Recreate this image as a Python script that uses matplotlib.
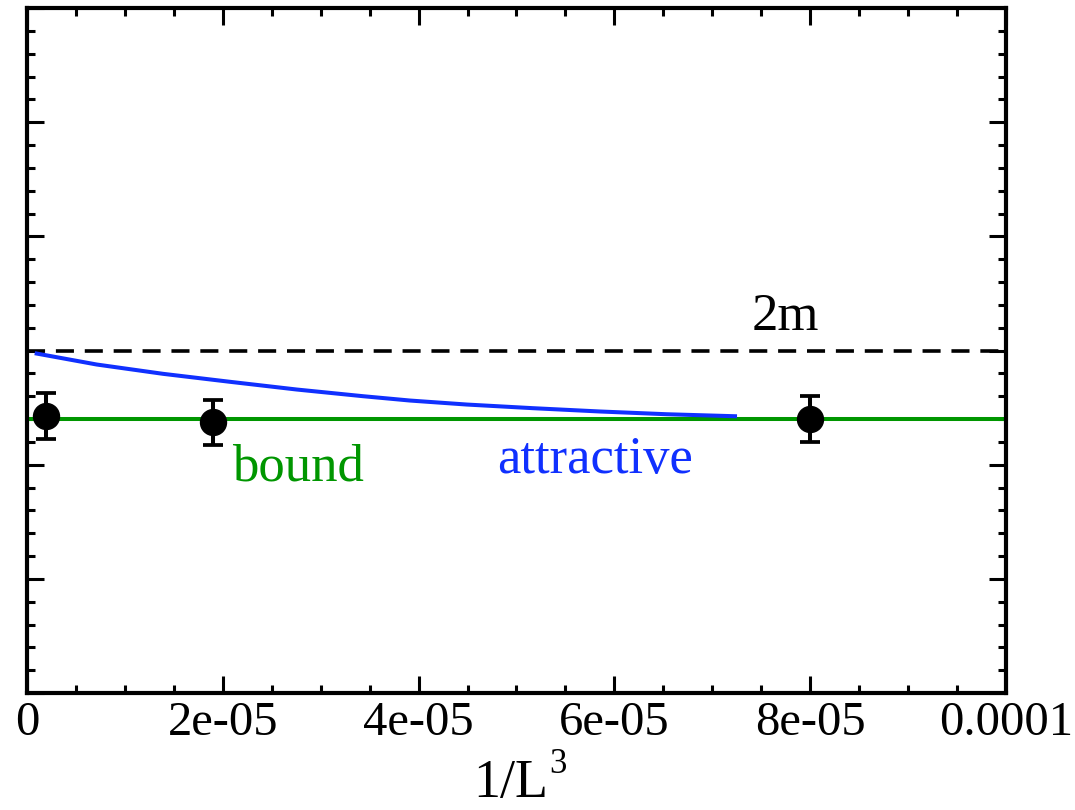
import numpy as np
import matplotlib
matplotlib.use('Agg')
import matplotlib.pyplot as plt
from matplotlib.ticker import MultipleLocator, FixedFormatter, FixedLocator

# data (energy in units of m, 1/L^3 on x)
pts_x = [1.95e-6, 1.90e-5, 8.00e-5]
pts_y = [1.885, 1.874, 1.880]
pts_err = [0.040, 0.040, 0.040]

bound_x = [0.0, 1.0e-4]
bound_y = [1.8797, 1.8797]

attr_x = [0.99e-6, 7.12e-6, 1.389e-5, 2.074e-5, 2.755e-5, 3.432e-5, 3.912e-5,
          4.491e-5, 5.169e-5, 5.853e-5, 6.534e-5, 7.232e-5]
attr_y = [1.9947, 1.9755, 1.9592, 1.9452, 1.9317, 1.9200, 1.9124,
          1.9054, 1.8990, 1.8932, 1.8884, 1.8849]

two_m = 2.0

xticks = [0, 2e-5, 4e-5, 6e-5, 8e-5, 1e-4]
xticklabels = ['0', '2e-05', '4e-05', '6e-05', '8e-05', '0.0001']

green = '#009600'
blue = '#1030ff'

plt.rcParams['font.family'] = ['Liberation Serif', 'DejaVu Serif']

fig = plt.figure(figsize=(10.75, 8.1), dpi=100)
ax = fig.add_axes([0.0251, 0.1444, 0.9107, 0.8457])

ax.axhline(two_m, color='black', lw=2.6, dashes=(5.0, 3.0), zorder=2)
ax.plot(bound_x, bound_y, color=green, lw=2.9, zorder=2)
ax.plot(attr_x, attr_y, color=blue, lw=2.9, zorder=3)
ax.errorbar(pts_x, pts_y, yerr=pts_err, fmt='o', color='black', ms=18.7,
            elinewidth=2.9, capsize=7, capthick=2.7, zorder=4)

ax.text(7.405e-5, 2.0368, '2m', fontsize=38, color='black', va='baseline')
ax.text(2.094e-5, 1.7723, 'bound', fontsize=38, color=green, va='baseline')
ax.text(4.80e-5, 1.7846, 'attractive', fontsize=38, color=blue, va='baseline')

ax.set_xlim(0, 1e-4)
ax.set_ylim(1.4, 2.6)
ax.xaxis.set_major_locator(FixedLocator(xticks))
ax.xaxis.set_major_formatter(FixedFormatter(xticklabels))
ax.xaxis.set_minor_locator(MultipleLocator(5e-6))
ax.yaxis.set_major_locator(MultipleLocator(0.2))
ax.yaxis.set_minor_locator(MultipleLocator(0.04))

ax.tick_params(which='both', direction='in', top=True, right=True, width=2.2)
ax.tick_params(which='major', length=12.5, labelsize=35, pad=6)
ax.tick_params(which='minor', length=5.8)
ax.tick_params(axis='y', labelleft=False)
for s in ax.spines.values():
    s.set_linewidth(3)

# x label: 1/L with a raised 3
ax.set_xlabel('1/L', fontsize=39)
ax.xaxis.set_label_coords(0.4939, -0.0949)
fig.text(549 / 1075, (810 - 773) / 810, '3', fontsize=25, ha='left', va='baseline')

fig.savefig('out.png', dpi=100)
